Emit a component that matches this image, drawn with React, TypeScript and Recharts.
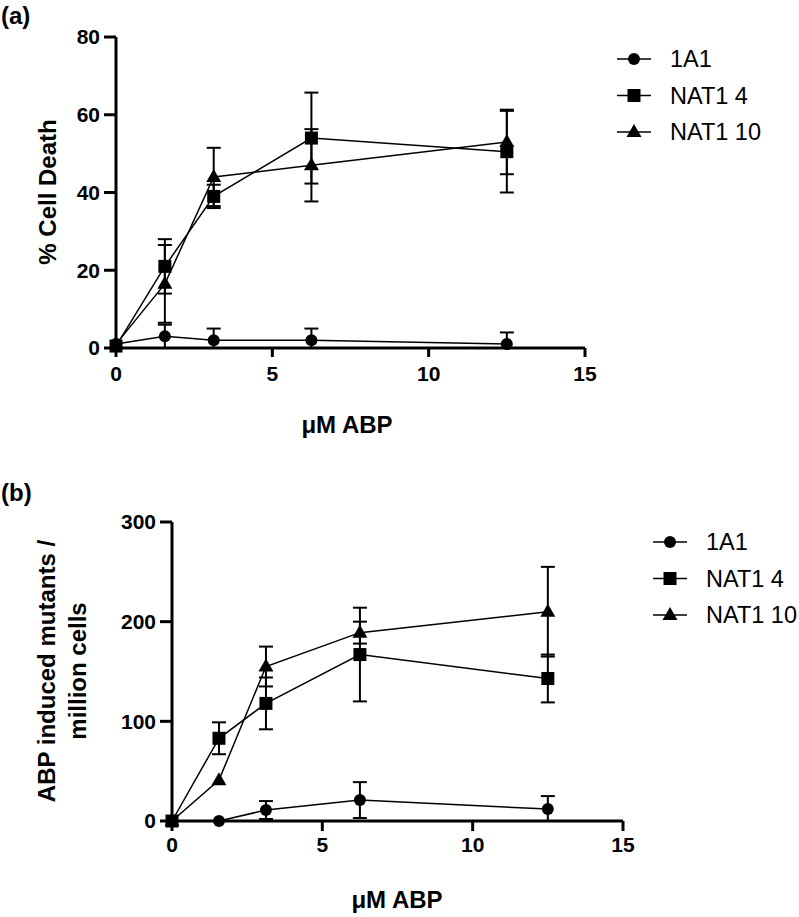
import React from "react";
import { LineChart, Line, XAxis, YAxis, ErrorBar, Legend } from "recharts";

const abpDose = [0, 1.5625, 3.125, 6.25, 12.5];
const xTicks = [0, 5, 10, 15];
const seriesOrder = ["a1", "n4", "n10"];

// (a) % cell death; errors are [below, above] where the bar is cut at zero
const deathTicks = [0, 20, 40, 60, 80];
const death1A1 = [1, 3, 2, 2, 1];
const death1A1Err = [0, [3, 3], [2, 3], [2, 3], [1, 3]];
const deathNat4 = [0.5, 21, 39, 54, 50.5];
const deathNat4Err = [0, 7, 3, 11.7, 10.5];
const deathNat10 = [1, 16.5, 44, 47, 53];
const deathNat10Err = [0, 10, 7.5, 9.3, 8.3];

// (b) ABP induced mutants / million cells
const mutantTicks = [0, 100, 200, 300];
const mut1A1 = [0, 0, 11, 21, 12];
const mut1A1Err = [0, 0, 9, 18, [12, 13]];
const mutNat4 = [0, 83, 118, 167, 143];
const mutNat4Err = [0, 16, 26, 47, 24];
const mutNat10 = [0, 41, 155, 189, 210];
const mutNat10Err = [0, 0, 20, 11, 45];

const FONT = "'Liberation Sans', Arial, Helvetica, sans-serif";

const deathRows = abpDose.map((dose, i) => ({
  dose,
  a1: death1A1[i],
  a1Err: death1A1Err[i],
  n4: deathNat4[i],
  n4Err: deathNat4Err[i],
  n10: deathNat10[i],
  n10Err: deathNat10Err[i],
}));

const mutantRows = abpDose.map((dose, i) => ({
  dose,
  a1: mut1A1[i],
  a1Err: mut1A1Err[i],
  n4: mutNat4[i],
  n4Err: mutNat4Err[i],
  n10: mutNat10[i],
  n10Err: mutNat10Err[i],
}));

type Shape = "circle" | "square" | "triangle";
const shapeFor: Record<string, Shape> = { a1: "circle", n4: "square", n10: "triangle" };

const Marker = ({ shape, cx = 0, cy = 0 }: { shape: Shape; cx?: number; cy?: number }) => {
  if (shape === "circle") return <circle cx={cx} cy={cy} r={6} fill="#000" />;
  if (shape === "square")
    return <rect x={cx - 6.5} y={cy - 6.5} width={13} height={13} fill="#000" />;
  return (
    <polygon
      points={`${cx},${cy - 8} ${cx + 7.5},${cy + 5} ${cx - 7.5},${cy + 5}`}
      fill="#000"
    />
  );
};

const makeDot = (key: string) => (p: any) =>
  <Marker key={`${key}-${p.index}`} shape={shapeFor[key]} cx={p.cx} cy={p.cy} />;

const renderLegend = (props: any) => {
  const payload = [...(props.payload || [])].sort(
    (a: any, b: any) => seriesOrder.indexOf(a.dataKey) - seriesOrder.indexOf(b.dataKey)
  );
  return (
    <svg width={190} height={112} style={{ display: "block" }}>
      {payload.map((entry: any, i: number) => {
        const y = 17 + i * 36.5;
        return (
          <g key={entry.value}>
            <line x1={0} x2={34} y1={y} y2={y} stroke="#000" strokeWidth={1.5} />
            <Marker shape={shapeFor[entry.dataKey]} cx={17} cy={y} />
            <text
              x={53}
              y={y}
              dominantBaseline="central"
              fontSize={23.5}
              fontFamily={FONT}
              fill="#000"
            >
              {entry.value}
            </text>
          </g>
        );
      })}
    </svg>
  );
};

const axisStroke = { stroke: "#000", strokeWidth: 3 };

const XTick = (p: any) => (
  <text
    x={p.x}
    y={p.y}
    dy="0.71em"
    textAnchor="middle"
    fontSize={21}
    fontWeight="bold"
    fontFamily={FONT}
    fill="#000"
  >
    {p.payload.value}
  </text>
);

const YTick = (p: any) => (
  <text
    x={p.x}
    y={p.y}
    dy="0.355em"
    textAnchor="end"
    fontSize={21}
    fontWeight="bold"
    fontFamily={FONT}
    fill="#000"
  >
    {p.payload.value}
  </text>
);

const titleStyle: React.CSSProperties = {
  position: "absolute",
  fontFamily: FONT,
  fontWeight: "bold",
  fontSize: 24,
  color: "#000",
  whiteSpace: "nowrap",
  transform: "translate(-50%, -50%)",
};

function Panel({
  rows,
  ticks,
  max,
  width,
  height,
  margin,
  yAxisWidth,
  xTickSize,
  xTickMargin,
  legendPos,
}: {
  rows: any[];
  ticks: number[];
  max: number;
  width: number;
  height: number;
  margin: { top: number; right: number; bottom: number; left: number };
  yAxisWidth: number;
  xTickSize: number;
  xTickMargin: number;
  legendPos: { left: number; top: number };
}) {
  return (
    <LineChart width={width} height={height} data={rows} margin={margin}>
      <XAxis
        dataKey="dose"
        type="number"
        domain={[0, 15]}
        ticks={xTicks}
        height={30}
        axisLine={axisStroke}
        tickLine={axisStroke}
        tickSize={xTickSize}
        tickMargin={xTickMargin}
        tick={<XTick />}
      />
      <YAxis
        type="number"
        domain={[0, max]}
        ticks={ticks}
        width={yAxisWidth}
        axisLine={axisStroke}
        tickLine={axisStroke}
        tickSize={12}
        tickMargin={4}
        tick={<YTick />}
      />
      <Legend
        layout="vertical"
        align="center"
        verticalAlign="middle"
        content={renderLegend}
        wrapperStyle={{
          left: legendPos.left,
          top: legendPos.top,
          width: 190,
          height: 112,
          margin: 0,
          padding: 0,
        }}
      />
      <Line
        dataKey="a1"
        name="1A1"
        stroke="#000"
        strokeWidth={1.5}
        dot={makeDot("a1")}
        activeDot={false}
        isAnimationActive={false}
      >
        <ErrorBar dataKey="a1Err" direction="y" width={7} stroke="#000" strokeWidth={2} />
      </Line>
      <Line
        dataKey="n4"
        name="NAT1 4"
        stroke="#000"
        strokeWidth={1.5}
        dot={makeDot("n4")}
        activeDot={false}
        isAnimationActive={false}
      >
        <ErrorBar dataKey="n4Err" direction="y" width={7} stroke="#000" strokeWidth={2} />
      </Line>
      <Line
        dataKey="n10"
        name="NAT1 10"
        stroke="#000"
        strokeWidth={1.5}
        dot={makeDot("n10")}
        activeDot={false}
        isAnimationActive={false}
      >
        <ErrorBar dataKey="n10Err" direction="y" width={7} stroke="#000" strokeWidth={2} />
      </Line>
    </LineChart>
  );
}

export default function App() {
  return (
    <div
      style={{
        position: "absolute",
        left: 0,
        top: 0,
        width: 799,
        height: 917,
        background: "#fff",
        fontFamily: FONT,
      }}
    >
      <div style={{ position: "absolute", left: 0, top: 0 }}>
        <Panel
          rows={deathRows}
          ticks={deathTicks}
          max={80}
          width={799}
          height={460}
          margin={{ top: 37, right: 214, bottom: 82, left: 0 }}
          yAxisWidth={116}
          xTickSize={9}
          xTickMargin={9}
          legendPos={{ left: 617, top: 42 }}
        />
      </div>
      <div style={{ position: "absolute", left: 0, top: 460 }}>
        <Panel
          rows={mutantRows}
          ticks={mutantTicks}
          max={300}
          width={799}
          height={457}
          margin={{ top: 62, right: 176, bottom: 66, left: 0 }}
          yAxisWidth={172}
          xTickSize={10}
          xTickMargin={6}
          legendPos={{ left: 653, top: 65 }}
        />
      </div>

      <div style={{ ...titleStyle, transform: "translate(0, -50%)", left: 1, top: 16 }}>(a)</div>
      <div style={{ ...titleStyle, transform: "translate(0, -50%)", left: 1, top: 493 }}>(b)</div>

      <div style={{ ...titleStyle, left: 48, top: 192, transform: "translate(-50%, -50%) rotate(-90deg)" }}>
        % Cell Death
      </div>
      <div style={{ ...titleStyle, left: 347, top: 425 }}>μM ABP</div>

      <div
        style={{
          ...titleStyle,
          left: 62,
          top: 671,
          textAlign: "center",
          lineHeight: "31px",
          transform: "translate(-50%, -50%) rotate(-90deg)",
        }}
      >
        ABP induced mutants /
        <br />
        million cells
      </div>
      <div style={{ ...titleStyle, left: 397, top: 900 }}>μM ABP</div>
    </div>
  );
}
